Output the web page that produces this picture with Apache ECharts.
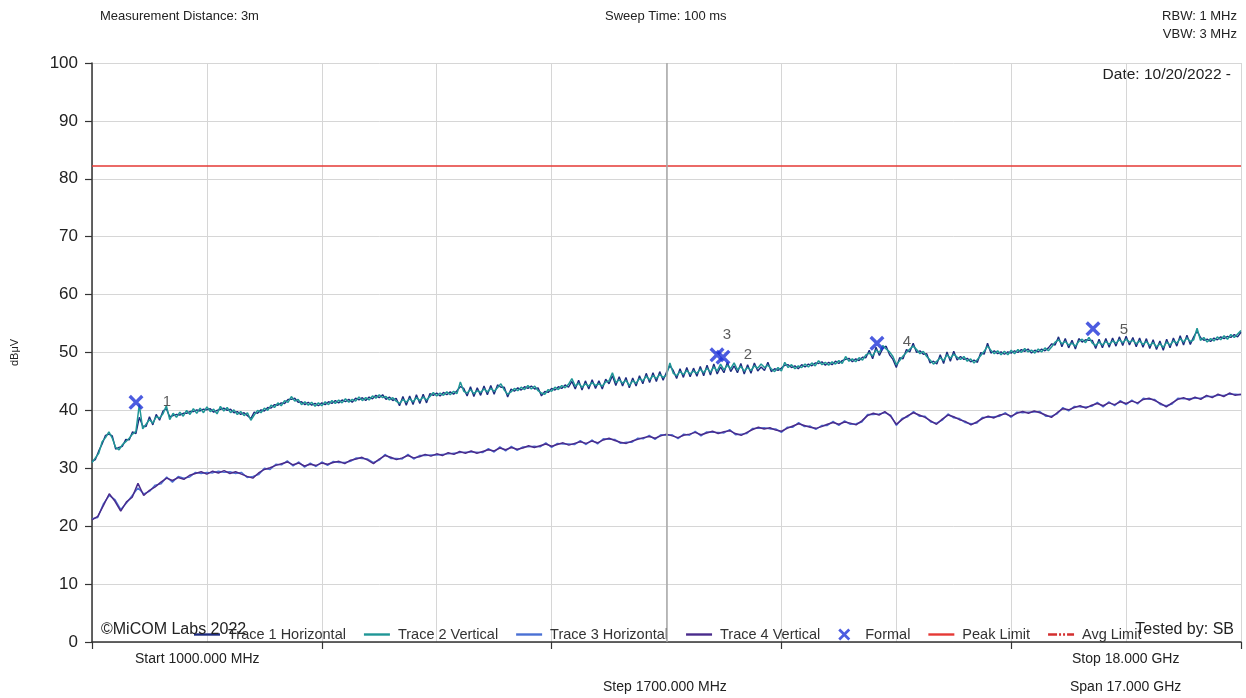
<!DOCTYPE html>
<html><head><meta charset="utf-8">
<script src="https://cdn.jsdelivr.net/npm/echarts@6/dist/echarts.min.js"></script>
<style>html,body{margin:0;padding:0;background:#fff}#chart{width:1246px;height:698px}</style>
</head><body><div id="chart"></div>
<script>
// Sweep: 1000 MHz .. 18000 MHz
const START_MHZ = 1000;
const STOP_MHZ = 18000;
const UPPER_STEP_MHZ = 50;   // traces 1 & 2: one reading every 50 MHz
const LOWER_STEP_MHZ = 85;   // traces 3 & 4: one reading every 85 MHz
const GRID_STEP_MHZ = 1700;

const trace1Horizontal = [31.2,31.5,33.0,34.2,35.7,35.9,35.6,33.3,33.6,33.8,
35.0,34.9,36.3,36.0,38.8,37.3,37.2,38.9,37.5,39.3,
38.3,39.9,40.3,38.9,39.1,39.3,39.2,39.5,39.5,39.8,
39.8,40.1,39.9,40.2,40.1,40.3,39.7,40.0,40.2,40.4,
40.0,40.2,39.6,39.8,39.3,39.6,39.1,38.6,39.7,39.5,
40.1,39.9,40.5,40.4,41.0,40.9,41.3,41.2,41.9,41.9,
42.1,41.4,41.5,41.0,41.4,40.9,41.2,40.8,41.3,41.0,
41.5,41.2,41.7,41.3,41.8,41.5,41.9,41.4,42.1,41.8,
42.2,41.7,42.3,42.0,42.6,42.2,42.7,41.9,42.3,41.7,
42.1,40.8,42.4,40.9,42.5,41.0,42.7,41.2,42.8,41.3,
42.9,42.6,43.0,42.5,43.1,42.7,43.2,42.8,43.4,44.1,
43.8,42.5,44.1,42.4,43.9,42.6,44.2,42.7,44.3,42.8,
44.4,44.0,44.0,42.3,43.7,43.3,43.9,43.5,44.1,43.8,
44.2,43.7,43.9,42.5,43.3,43.1,43.8,43.5,44.1,43.8,
44.4,44.0,45.0,43.7,45.2,43.5,45.1,43.7,45.3,43.8,
45.1,43.7,45.4,44.6,46.0,44.3,45.8,44.2,45.7,43.9,
45.6,44.2,46.0,44.6,46.4,44.8,46.5,45.0,46.7,45.2,
46.6,47.7,46.9,45.5,47.2,45.7,47.4,45.8,47.3,45.9,
47.6,46.0,47.8,46.1,48.0,46.3,47.5,46.5,48.3,46.7,
47.7,46.5,48.1,46.3,47.9,46.4,48.2,46.8,47.5,46.9,
48.3,46.7,47.2,46.9,47.3,47.8,47.9,47.4,47.7,47.2,
47.9,47.5,48.0,47.7,48.2,48.1,48.4,47.8,48.3,47.9,
48.5,48.1,48.6,48.8,49.0,48.4,48.9,48.6,49.2,49.1,
50.4,48.9,50.9,49.5,50.7,51.1,49.6,48.8,47.4,49.1,
48.9,50.5,50.1,51.6,50.0,50.3,49.7,49.8,48.2,48.5,
48.0,49.6,48.1,50.1,48.5,50.2,48.7,49.3,48.8,49.0,
48.4,48.7,48.3,50.0,49.7,51.6,49.9,50.3,49.8,50.1,
49.7,50.1,49.9,50.3,50.0,50.5,50.2,50.6,49.9,50.4,
50.1,50.6,50.3,50.8,51.5,51.3,52.7,51.0,52.4,50.8,
52.1,50.6,52.4,51.8,52.2,52.1,52.1,50.7,52.3,50.8,
52.4,50.9,52.5,51.1,52.7,51.2,52.8,51.3,52.6,51.0,
52.5,50.9,52.4,50.7,52.2,50.5,52.0,50.4,52.3,50.8,
52.5,51.1,52.9,51.3,53.0,51.4,52.7,53.7,52.6,52.1,
52.3,51.9,52.5,52.2,52.7,52.4,52.8,52.6,53.1,52.7,
53.5];

const trace2Vertical = [31.0,31.8,32.6,34.6,35.3,36.3,35.2,33.6,33.2,34.1,
34.6,35.2,35.9,36.4,41.0,36.8,37.6,38.4,37.8,38.9,
38.7,39.4,40.8,38.4,39.5,38.8,39.7,39.0,40.0,39.3,
40.3,39.5,40.4,39.6,40.6,39.8,40.2,39.4,40.7,39.9,
40.5,39.6,40.1,39.3,39.8,39.1,39.6,38.3,39.2,40.0,
39.6,40.4,40.0,40.9,40.5,41.3,40.8,41.7,41.4,42.4,
41.6,41.9,41.0,41.5,40.9,41.4,40.7,41.3,40.8,41.5,
41.0,41.7,41.2,41.8,41.3,42.0,41.4,41.9,41.6,42.3,
41.7,42.2,41.8,42.5,42.1,42.7,42.2,42.4,41.8,42.2,
41.6,41.2,41.9,41.4,42.0,41.5,42.2,41.7,42.3,41.8,
42.4,43.1,42.5,43.0,42.6,43.2,42.7,43.3,42.9,44.9,
43.3,43.0,43.6,42.9,43.4,43.1,43.7,43.2,43.8,43.3,
43.9,44.6,43.5,42.8,43.2,43.8,43.4,44.0,43.6,44.3,
43.7,44.2,43.4,43.0,42.8,43.6,43.3,44.0,43.6,44.3,
43.9,44.5,45.5,44.2,44.7,44.0,44.6,44.2,44.8,44.3,
44.6,44.2,44.9,45.1,46.5,44.8,45.3,44.7,45.2,44.3,
45.1,44.7,45.5,45.1,45.9,45.3,46.0,45.5,46.2,45.7,
46.1,48.2,46.4,46.0,46.7,46.2,46.9,46.3,46.8,46.4,
47.1,46.5,47.3,46.6,47.5,46.8,48.0,47.0,47.8,47.2,
48.2,47.0,47.6,46.8,47.4,46.9,47.7,47.3,48.0,47.4,
47.8,47.2,46.7,47.4,46.8,48.3,47.4,47.9,47.2,47.7,
47.4,48.0,47.5,48.2,47.7,48.6,47.9,48.3,47.8,48.4,
48.0,48.6,48.1,49.3,48.5,48.9,48.4,49.1,48.7,49.6,
49.9,49.4,50.4,50.0,51.2,50.6,50.1,49.3,47.9,48.6,
49.4,50.0,50.6,51.1,50.5,49.8,50.2,49.3,48.7,48.0,
48.5,49.1,48.6,49.6,49.0,49.7,49.2,48.8,49.3,48.5,
48.9,48.2,48.8,49.5,50.2,51.1,50.4,49.8,50.3,49.6,
50.2,49.6,50.4,49.8,50.5,50.0,50.7,50.1,50.4,49.9,
50.6,50.1,50.8,50.3,51.0,51.8,52.2,51.5,51.9,51.3,
51.6,51.1,51.9,52.3,51.7,52.6,51.6,51.2,51.8,51.3,
51.9,51.4,52.0,51.6,52.2,51.7,52.3,51.8,52.1,51.5,
52.0,51.4,51.9,51.2,51.7,51.0,51.5,50.9,51.8,51.3,
52.0,51.6,52.4,51.8,52.5,51.9,52.2,54.2,52.1,52.6,
51.8,52.4,52.0,52.7,52.2,52.9,52.3,53.1,52.6,53.2,
53.8];

const trace3Horizontal = [21.3,21.5,23.9,25.3,24.6,22.9,24.0,25.3,26.6,25.6,
26.0,27.1,27.3,28.5,27.6,28.6,28.3,28.5,29.3,29.1,
29.3,29.2,29.5,29.3,29.4,29.1,29.3,28.4,28.6,28.9,
30.0,29.8,30.7,30.6,31.3,30.4,31.1,30.2,30.9,30.3,
31.1,30.5,31.2,31.0,31.0,31.2,31.8,31.7,31.6,31.0,
31.4,32.4,31.7,31.7,31.6,32.4,31.6,32.2,32.2,32.3,
32.3,32.4,32.5,32.6,32.7,32.8,32.8,32.8,32.7,33.4,
32.8,33.7,33.0,33.8,33.1,33.7,33.7,33.8,33.7,34.4,
33.6,34.3,34.2,34.2,34.1,34.8,34.1,34.9,34.2,35.1,
35.0,35.0,34.3,34.5,34.5,35.2,35.1,35.7,35.0,35.8,
35.7,35.8,35.1,35.9,35.7,36.4,35.6,36.3,36.2,36.2,
36.1,36.7,35.8,35.9,36.0,36.9,36.9,37.0,36.8,36.8,
36.2,37.1,37.1,37.9,37.2,37.3,36.7,37.4,37.4,38.1,
37.4,38.2,37.6,37.7,38.0,39.3,39.3,39.4,39.6,39.2,
37.4,38.6,38.9,39.8,39.0,39.0,38.0,37.8,38.3,39.4,
38.7,38.6,37.9,37.7,37.8,38.8,38.8,38.9,39.0,39.6,
38.8,39.7,39.6,39.7,39.7,39.8,39.0,39.0,39.4,40.5,
39.9,40.7,40.6,40.6,40.7,41.4,40.6,41.5,40.8,41.7,
41.0,41.8,41.1,42.1,41.9,41.9,41.0,40.8,41.1,42.1,
42.0,42.0,42.1,42.1,42.4,42.4,42.6,42.6,42.8,42.8,
42.7];

const trace4Vertical = [21.1,21.7,23.6,25.6,24.3,22.6,24.2,25.0,27.4,25.3,
26.2,26.8,27.6,28.3,27.9,28.4,28.1,28.8,29.1,29.4,
29.0,29.5,29.2,29.6,29.1,29.4,29.0,28.6,28.3,29.2,
29.8,30.1,30.5,30.8,31.1,30.6,30.9,30.4,30.7,30.5,
30.9,30.7,31.0,31.2,30.8,31.4,31.6,31.9,31.4,30.8,
31.6,32.2,31.9,31.5,31.8,32.2,31.8,32.0,32.4,32.1,
32.5,32.2,32.7,32.4,32.9,32.6,33.0,32.6,32.9,33.2,
33.0,33.5,33.2,33.6,33.3,33.5,33.9,33.6,33.9,34.2,
33.8,34.1,34.4,34.0,34.3,34.6,34.3,34.7,34.4,34.9,
35.2,34.8,34.5,34.3,34.7,35.0,35.3,35.5,35.2,35.6,
35.9,35.6,35.3,35.7,35.9,36.2,35.8,36.1,36.4,36.0,
36.3,36.5,36.0,35.7,36.2,36.7,37.1,36.8,37.0,36.6,
36.4,36.9,37.3,37.7,37.4,37.1,36.9,37.2,37.6,37.9,
37.6,38.0,37.8,37.5,38.2,39.1,39.5,39.2,39.8,39.0,
37.6,38.4,39.1,39.6,39.2,38.8,38.2,37.6,38.5,39.2,
38.9,38.4,38.1,37.5,38.0,38.6,39.0,38.7,39.2,39.4,
39.0,39.5,39.8,39.5,39.9,39.6,39.2,38.8,39.6,40.3,
40.1,40.5,40.8,40.4,40.9,41.2,40.8,41.3,41.0,41.5,
41.2,41.6,41.3,41.9,42.1,41.7,41.2,40.6,41.3,41.9,
42.2,41.8,42.3,41.9,42.6,42.2,42.8,42.4,43.0,42.6,
42.8];

// Formal markers
const markerNames = ['1', '2', '3', '4', '5'];
const markerFreqsMHz = [1651, 10336, 10247, 12614, 15810];
const markerValues = [41.4, 49.2, 49.6, 51.6, 54.1];

const peakLimitDbuV = 82.2;

const legendNames = ['Trace 1 Horizontal', 'Trace 2 Vertical', 'Trace 3 Horizontal', 'Trace 4 Vertical', 'Formal', 'Peak Limit', 'Avg Limit'];

// ---- styles ----
const FONT = 'Liberation Sans, Arial, sans-serif';
const labelOffsets = [[31, 0], [25, -2], [10, -20], [30, -1], [31, 1]];
const X_PATH = 'path://M0,1.6 L1.6,0 L5,3.4 L8.4,0 L10,1.6 L6.6,5 L10,8.4 L8.4,10 L5,6.6 L1.6,10 L0,8.4 L3.4,5 Z';
const LINE_ICON = 'path://M0,0 L26,0 L26,2.4 L0,2.4 Z';
const DASH_ICON = 'path://M0,0 L9,0 L9,2.4 L0,2.4 Z M11,0 L13,0 L13,2.4 L11,2.4 Z M15,0 L17,0 L17,2.4 L15,2.4 Z M19,0 L26,0 L26,2.4 L19,2.4 Z';

const toXY = (arr, step) => arr.map((v, i) => [i * step, v]);   // x = offset from start (MHz)
const span = STOP_MHZ - START_MHZ;

const chart = echarts.init(document.getElementById('chart'), null, {renderer: 'canvas'});

const lineSeries = (name, data, step, color, width, z) => ({
  name, type: 'line', data: toXY(data, step), showSymbol: false, symbol: 'none',
  lineStyle: {color, width}, itemStyle: {color}, z, silent: true
});

chart.setOption({
  animation: false,
  backgroundColor: '#ffffff',
  textStyle: {fontFamily: FONT},
  grid: {left: 92, right: 5, top: 63, bottom: 56, containLabel: false},
  xAxis: [{
    type: 'value', min: 0, max: span, interval: GRID_STEP_MHZ,
    axisLine: {show: true, lineStyle: {color: '#333', width: 1.5}},
    axisTick: {show: false}, axisLabel: {show: false},
    splitLine: {show: true, lineStyle: {color: '#d6d6d6', width: 1}}
  }, {
    type: 'value', min: 0, max: span, interval: GRID_STEP_MHZ * 2, position: 'bottom',
    axisLine: {show: false},
    axisTick: {show: true, length: 7, lineStyle: {color: '#333', width: 1.2}},
    axisLabel: {show: false}, splitLine: {show: false}
  }],
  yAxis: {
    type: 'value', min: 0, max: 100, interval: 10,
    name: 'dBμV', nameLocation: 'middle', nameGap: 72,
    nameTextStyle: {fontSize: 11, color: '#222', fontFamily: FONT},
    axisLine: {show: true, lineStyle: {color: '#333', width: 1.5}},
    axisTick: {show: true, length: 7, lineStyle: {color: '#333', width: 1.2}},
    axisLabel: {fontSize: 17, color: '#222', margin: 14, fontFamily: FONT},
    splitLine: {show: true, lineStyle: {color: '#d6d6d6', width: 1}}
  },
  legend: {
    left: 189, top: 622, itemWidth: 26, itemHeight: 12, itemGap: 18,
    selectedMode: false,
    textStyle: {fontSize: 14.5, color: '#333', fontFamily: FONT, padding: [0, 0, 0, 3]},
    data: [
      {name: legendNames[0], icon: LINE_ICON},
      {name: legendNames[1], icon: LINE_ICON},
      {name: legendNames[2], icon: LINE_ICON},
      {name: legendNames[3], icon: LINE_ICON},
      {name: legendNames[4], icon: X_PATH},
      {name: legendNames[5], icon: LINE_ICON},
      {name: legendNames[6], icon: DASH_ICON}
    ]
  },
  series: [
    lineSeries(legendNames[0], trace1Horizontal, UPPER_STEP_MHZ, '#1d2b7e', 1.4, 2),
    lineSeries(legendNames[1], trace2Vertical, UPPER_STEP_MHZ, '#1f9696', 1.5, 3),
    lineSeries(legendNames[2], trace3Horizontal, LOWER_STEP_MHZ, '#4a70d4', 1.4, 2),
    lineSeries(legendNames[3], trace4Vertical, LOWER_STEP_MHZ, '#4a2b8c', 1.5, 3),
    {
      name: legendNames[4], type: 'scatter', symbol: X_PATH, symbolSize: 15, z: 5,
      itemStyle: {color: '#1f33d8'},
      data: markerNames.map((n, i) => ({
        name: n, value: [markerFreqsMHz[i] - START_MHZ, markerValues[i]],
        label: {show: true, position: 'inside', offset: labelOffsets[i], formatter: n,
                fontSize: 15, color: '#333', fontFamily: FONT}
      }))
    },
    {
      name: legendNames[5], type: 'line', showSymbol: false, symbol: 'none', z: 4,
      lineStyle: {color: '#e53935', width: 1.5}, itemStyle: {color: '#e53935'},
      data: [[0, peakLimitDbuV], [span, peakLimitDbuV]],
      markLine: {
        silent: true, symbol: 'none', label: {show: false},
        lineStyle: {color: '#a8a8a8', width: 1.5, type: 'solid'},
        data: [{xAxis: span / 2}]
      }
    },
    {
      name: legendNames[6], type: 'line', showSymbol: false, symbol: 'none',
      lineStyle: {color: '#d32f2f', width: 1.5, type: [6, 2, 2, 2, 2, 2]},
      itemStyle: {color: '#d32f2f'}, data: []
    }
  ],
  graphic: [
    {type: 'text', left: 100, top: 10, style: {text: 'Measurement Distance: 3m', font: '13px ' + FONT, fill: '#222'}},
    {type: 'text', left: 605, top: 10, style: {text: 'Sweep Time: 100 ms', font: '13px ' + FONT, fill: '#222'}},
    {type: 'text', right: 9, top: 10, style: {text: 'RBW: 1 MHz', font: '13px ' + FONT, fill: '#222'}},
    {type: 'text', right: 9, top: 28, style: {text: 'VBW: 3 MHz', font: '13px ' + FONT, fill: '#222'}},
    {type: 'text', right: 15, top: 67, style: {text: 'Date: 10/20/2022 -', font: '15.5px ' + FONT, fill: '#222'}},
    {type: 'text', left: 101, top: 622, z: 100, style: {text: '©MiCOM Labs 2022', font: '16px ' + FONT, fill: '#222'}},
    {type: 'text', right: 12, top: 622, z: 100, style: {text: 'Tested by: SB', font: '16px ' + FONT, fill: '#222'}},
    {type: 'text', left: 135, top: 652, style: {text: 'Start 1000.000 MHz', font: '14px ' + FONT, fill: '#222'}},
    {type: 'text', left: 603, top: 680, style: {text: 'Step 1700.000 MHz', font: '14px ' + FONT, fill: '#222'}},
    {type: 'text', left: 1072, top: 652, style: {text: 'Stop 18.000 GHz', font: '14px ' + FONT, fill: '#222'}},
    {type: 'text', left: 1070, top: 680, style: {text: 'Span 17.000 GHz', font: '14px ' + FONT, fill: '#222'}}
  ]
});
</script></body></html>
